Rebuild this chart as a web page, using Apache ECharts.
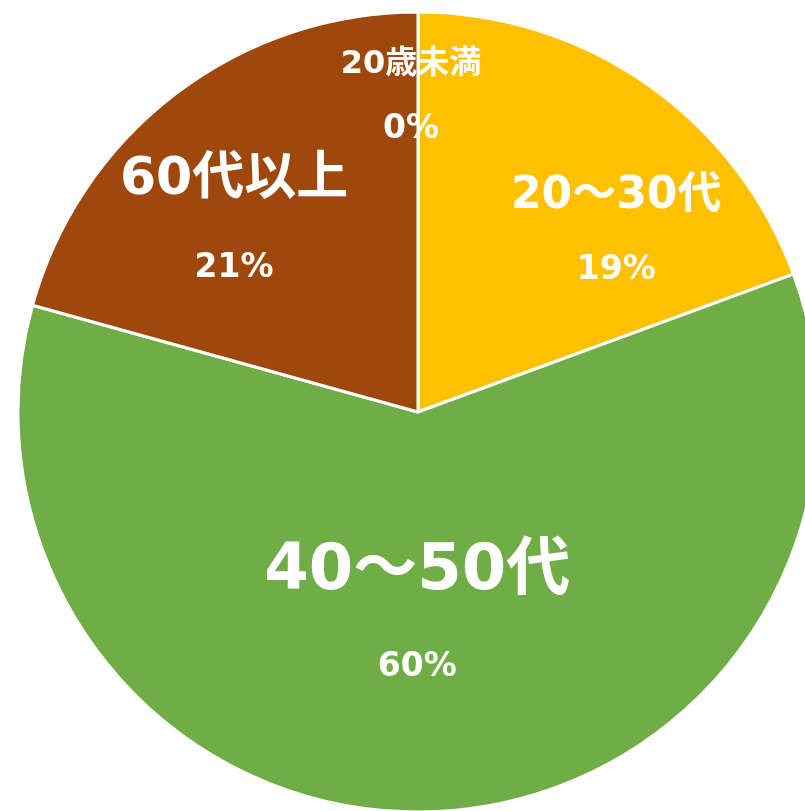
<!DOCTYPE html>
<html>
<head>
<meta charset="utf-8">
<script src="https://cdn.jsdelivr.net/npm/echarts@6/dist/echarts.min.js"></script>
<style>
html,body{margin:0;padding:0;background:#fff;}
#chart{width:805px;height:811px;}
</style>
</head>
<body>
<div id="chart"></div>
<script>
// Data
var categories = ['20歳未満', '20～30代', '40～50代', '60代以上'];
var shares = [0, 19.4, 59.9, 20.7];

// Styles
var colors = ['#FFC000', '#FFC000', '#70AD47', '#9E480E'];
var nameSizes = [32, 44, 64, 52];
var pctSize = 33;
var lineGaps = [64, 73, 95, 87];
var labelShift = [[-7, -112], [82, -12], [-9, 5], [-61, -26]];
var labelFont = '"DejaVu Sans", "Noto Sans CJK JP", sans-serif';

var chart = echarts.init(document.getElementById('chart'));
var seriesData = categories.map(function (c, i) {
  return {
    name: c,
    value: shares[i],
    itemStyle: { color: colors[i] },
    label: {
      rich: {
        n: { fontSize: nameSizes[i], lineHeight: lineGaps[i], color: '#fff', fontWeight: 'bold', fontFamily: labelFont },
        p: { fontSize: pctSize, lineHeight: lineGaps[i], color: '#fff', fontWeight: 'bold', fontFamily: labelFont }
      }
    }
  };
});

chart.setOption({
  backgroundColor: '#ffffff',
  animation: false,
  series: [{
    type: 'pie',
    center: [418, 412],
    radius: [0, 400],
    startAngle: 90,
    clockwise: true,
    avoidLabelOverlap: false,
    itemStyle: { borderColor: '#ffffff', borderWidth: 3 },
    label: {
      show: true,
      position: 'inside',
      formatter: function (p) {
        return '{n|' + p.name + '}\n{p|' + Math.round(p.percent) + '%}';
      }
    },
    labelLine: { show: false },
    labelLayout: function (params) {
      var s = labelShift[params.dataIndex];
      return { dx: s[0], dy: s[1] };
    },
    emphasis: { disabled: true },
    data: seriesData
  }]
});
</script>
</body>
</html>
